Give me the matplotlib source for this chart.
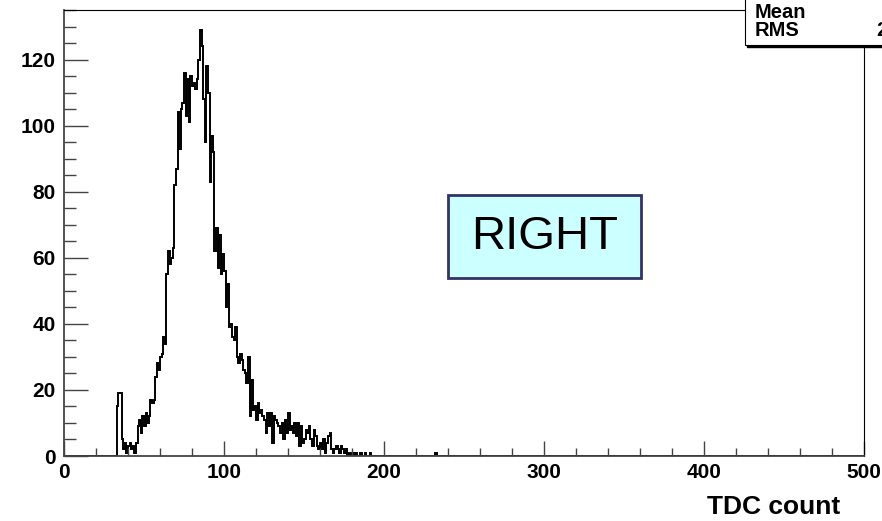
import numpy as np
import matplotlib
matplotlib.use('Agg')
import matplotlib.pyplot as plt
from matplotlib.patches import Rectangle
from matplotlib.ticker import MultipleLocator

# Histograma TDC (bins de ancho 1, de 0 a 500)
BIN_START = 32
COUNTS = [
    0, 15, 19, 19, 5, 2, 4, 1, 3, 4,          # 32-41
    2, 3, 1, 4, 9, 11, 7, 12, 9, 13,          # 42-51
    10, 12, 17, 16, 17, 24, 28, 26, 30, 31,   # 52-61
    36, 34, 55, 62, 58, 60, 63, 82, 87, 104,  # 62-71
    93, 105, 107, 116, 103, 114, 101, 115, 112, 113,  # 72-81
    111, 114, 120, 129, 124, 108, 95, 118, 110, 83,   # 82-91
    97, 92, 62, 69, 57, 67, 55, 61, 56, 45,   # 92-101
    52, 39, 40, 36, 35, 39, 30, 28, 31, 29,   # 102-111
    26, 25, 22, 30, 12, 23, 14, 15, 11, 16,   # 112-121
    13, 14, 12, 11, 7, 13, 9, 13, 4, 12,      # 122-131
    11, 10, 9, 7, 10, 5, 11, 7, 13, 8,        # 132-141
    9, 7, 10, 6, 10, 3, 9, 4, 5, 8,           # 142-151
    7, 9, 5, 3, 8, 6, 3, 2, 4, 2,             # 152-161
    5, 1, 4, 6, 7, 2, 1, 2, 3, 2,             # 162-171
    1, 3, 2, 1, 2, 0, 1, 0, 1, 0,             # 172-181
    1, 0, 0, 1, 0, 0, 1, 0, 0, 1,             # 182-191
]
EXTRA_BINS = {232: 1}

RMS_TEXT = '25.7'
BOX_LABEL = 'RIGHT'
X_LABEL = 'TDC count'

counts = np.zeros(500)
counts[BIN_START:BIN_START + len(COUNTS)] = COUNTS
for b, v in EXTRA_BINS.items():
    counts[b] = v
edges = np.arange(501)

W, H = 882, 521
fig = plt.figure(figsize=(W / 100, H / 100), dpi=100, facecolor='white')
ax = fig.add_axes([64 / W, (H - 456) / H, 800 / W, 446 / H])

ax.stairs(counts, edges, color='black', linewidth=1.4)
ax.set_xlim(0, 500)
ax.set_ylim(0, 135)

ax.xaxis.set_major_locator(MultipleLocator(100))
ax.xaxis.set_minor_locator(MultipleLocator(20))
ax.yaxis.set_major_locator(MultipleLocator(20))
ax.yaxis.set_minor_locator(MultipleLocator(5))

ax.tick_params(axis='x', which='major', direction='in', length=11, width=1, color='#444444', pad=5)
ax.tick_params(axis='x', which='minor', direction='in', length=5.5, width=1, color='#444444')
ax.tick_params(axis='y', which='major', direction='in', length=17, width=1, color='#444444', pad=6)
ax.tick_params(axis='y', which='minor', direction='in', length=8.5, width=1, color='#444444')
for lab in ax.get_xticklabels() + ax.get_yticklabels():
    lab.set_fontfamily('Liberation Sans')
    lab.set_fontweight('bold')
    lab.set_fontsize(15)

ax.spines['left'].set_color('#444444')
ax.spines['bottom'].set_color('#444444')
ax.spines['left'].set_linewidth(1.3)
ax.spines['bottom'].set_linewidth(1.3)
ax.spines['top'].set_linewidth(0.8)
ax.spines['right'].set_linewidth(0.8)

# Etiqueta del eje x
fig.text(840 / W, (H - 507) / H, X_LABEL, ha='right', va='center', fontsize=19,
         fontweight='bold', family='Liberation Sans')

# Caja "RIGHT"
fig.patches.append(Rectangle((448 / W, (H - 278) / H), 193 / W, 83 / H,
                             transform=fig.transFigure, facecolor='#ccffff',
                             edgecolor='#333366', linewidth=2, zorder=5))
fig.text(544.5 / W, (H - 237) / H, BOX_LABEL, ha='center', va='center',
         fontsize=34, family='Liberation Sans', zorder=6)

# Caja de estadísticas (cortada por el borde)
fig.patches.append(Rectangle((747 / W, (H - 47) / H), 140 / W, 50 / H,
                             transform=fig.transFigure, facecolor='black',
                             edgecolor='black', zorder=6))
fig.patches.append(Rectangle((745 / W, (H - 45) / H), 140 / W, 50 / H,
                             transform=fig.transFigure, facecolor='white',
                             edgecolor='black', linewidth=0.8, zorder=7))
fig.text(755 / W, (H - 13) / H, 'Mean', ha='left', va='center', fontsize=14.5,
         fontweight='bold', family='Liberation Sans', zorder=8)
fig.text(755 / W, (H - 31) / H, 'RMS', ha='left', va='center', fontsize=14.5,
         fontweight='bold', family='Liberation Sans', zorder=8)
fig.text(876 / W, (H - 31) / H, RMS_TEXT, ha='left', va='center', fontsize=14.5,
         fontweight='bold', family='Liberation Sans', zorder=8)

fig.savefig('out.png', dpi=100, facecolor='white')
